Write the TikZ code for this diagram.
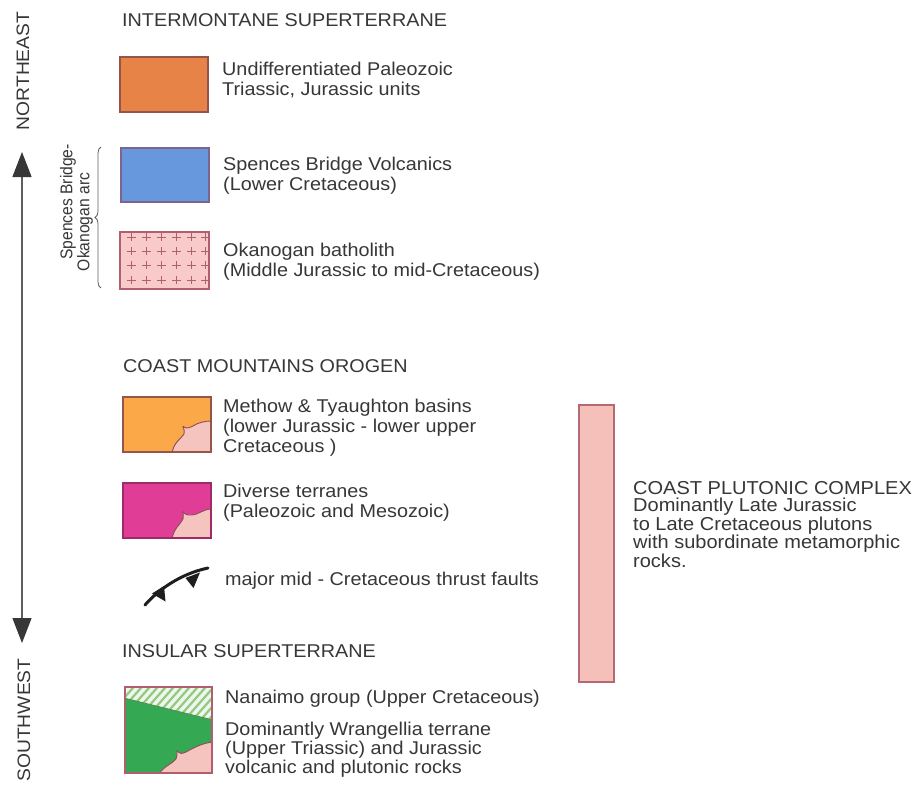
\documentclass[tikz,border=0pt]{standalone}
\usepackage{fontspec}
\setmainfont{Liberation Sans}[FakeStretch=1.07]
\usetikzlibrary{decorations.pathreplacing,arrows.meta}
\definecolor{txt}{RGB}{55,55,55}
\definecolor{linegray}{RGB}{95,95,95}
\definecolor{orangeA}{RGB}{232,131,72}
\definecolor{orangeAb}{RGB}{150,85,75}
\definecolor{blueA}{RGB}{103,152,222}
\definecolor{blueAb}{RGB}{125,100,140}
\definecolor{pinkA}{RGB}{248,202,202}
\definecolor{pinkAb}{RGB}{175,95,110}
\definecolor{orangeB}{RGB}{250,168,72}
\definecolor{magB}{RGB}{224,62,150}
\definecolor{pinkIn}{RGB}{245,196,190}
\definecolor{greenA}{RGB}{52,168,82}
\definecolor{hatchG}{RGB}{150,200,120}
\definecolor{hatchBg}{RGB}{236,246,242}
\definecolor{barfill}{RGB}{245,192,186}
\definecolor{barb}{RGB}{180,105,115}
\definecolor{faultc}{RGB}{30,30,30}
\tikzset{
  lbox/.style={anchor=north west,inner sep=0pt,outer sep=0pt,line width=1.3pt},
  lab/.style={anchor=base west,inner sep=0pt,align=left,text=txt,font=\fontsize{18.5}{20}\selectfont},
  labtight/.style={lab,font=\fontsize{18.7}{17.2}\selectfont},
  rot/.style={rotate=90,inner sep=0pt,text=txt,font=\fontsize{18}{20}\selectfont},
  inset/.style={fill=pinkIn,draw=pinkAb!80!black,line width=0.9pt},
}
\begin{document}
\begin{tikzpicture}[x=1pt,y=-1pt]
\useasboundingbox (0,0) rectangle (919,787);
\fill[white] (0,0) rectangle (919,787);

% direction arrow
\coordinate (ne) at (22,152);
\coordinate (sw) at (22,643);
\draw[linegray,line width=1.3pt,
  {Triangle[length=25pt,width=19pt,fill=txt,color=txt]}-{Triangle[length=25pt,width=19pt,fill=txt,color=txt]}]
  (ne) -- (sw);
\node[rot] (tNE) at (23,71) {NORTHEAST};
\node[rot] (tSW) at (24,720) {SOUTHWEST};

% arc label and brace
\node[rot,font=\fontsize{17}{20}\selectfont] (tsb1) at (68,202) {\scalebox{0.86}[1]{Spences Bridge-}};
\node[rot,font=\fontsize{17}{20}\selectfont] (tsb2) at (85,222) {\scalebox{0.86}[1]{Okanogan arc}};
\coordinate (brb) at (101,288);
\coordinate (brt) at (101,147);
\draw[linegray,line width=0.8pt,decorate,decoration={brace,amplitude=6pt}] (brb) -- (brt);

% headings
\node[lab] (hI) at (122,26) {INTERMONTANE SUPERTERRANE};
\node[lab] (hC) at (123,372) {COAST MOUNTAINS OROGEN};
\node[lab] (hS) at (122,657) {INSULAR SUPERTERRANE};

% box 1
\node[lbox,draw=orangeAb,fill=orangeA,minimum width=88pt,minimum height=55pt] (b1) at (120,57) {};
\node[lab] (l1) at (222,95) {Undifferentiated Paleozoic\\Triassic, Jurassic units};

% box 2
\node[lbox,draw=blueAb,fill=blueA,minimum width=88pt,minimum height=54pt] (b2) at (121,148) {};
\node[lab] (l2) at (223,190) {Spences Bridge Volcanics\\(Lower Cretaceous)};

% box 3 with plus signs
\node[lbox,draw=pinkAb,fill=pinkA,minimum width=89pt,minimum height=57pt] (b3) at (120,232) {};
\begin{scope}
\clip (b3.south west) rectangle (b3.north east);
\foreach \px in {131.5,146.5,161.5,176.5,191.5,205.5}
  \foreach \py in {237,251,265,280}
    \draw[pinkAb,line width=0.9pt] (\px-4.2,\py) -- (\px+4.2,\py) (\px,\py-4.2) -- (\px,\py+4.2);
\end{scope}
\draw[pinkAb,line width=1.3pt] (b3.south west) rectangle (b3.north east);
\node[lab] (l3) at (223,276) {Okanogan batholith\\(Middle Jurassic to mid-Cretaceous)};

% box 4 Methow
\node[lbox,draw=orangeAb,fill=orangeB,minimum width=88pt,minimum height=55pt] (b4) at (123,397) {};
\begin{scope}
\clip (b4.south west) rectangle (b4.north east);
\path[inset] (172,453) .. controls (174,442) and (180,440) .. (184,434)
  .. controls (184.5,431) .. (183,426.5) .. controls (187,428.5) .. (192,426.5)
  .. controls (198,422.5) and (205,421) .. (212,421) -- (212,453) -- cycle;
\end{scope}
\draw[orangeAb,line width=1.3pt] (b4.south west) rectangle (b4.north east);
\node[lab] (l4) at (223,452) {Methow \& Tyaughton basins\\(lower Jurassic - lower upper\\Cretaceous )};

% box 5 Diverse terranes
\node[lbox,draw=magB!70!black,fill=magB,minimum width=88pt,minimum height=55pt] (b5) at (123,483) {};
\begin{scope}
\clip (b5.south west) rectangle (b5.north east);
\path[inset] (172,539) .. controls (174,528) and (180,525) .. (183,519)
  .. controls (183.5,516) .. (182.5,511.5) .. controls (186,515) .. (192,515)
  .. controls (200,514) and (203,509) .. (212,509) -- (212,539) -- cycle;
\end{scope}
\draw[magB!70!black,line width=1.3pt] (b5.south west) rectangle (b5.north east);
\node[lab] (l5) at (223,517) {Diverse terranes\\(Paleozoic and Mesozoic)};

% thrust fault symbol
\draw[faultc,line width=3pt,line cap=round] (145,605) .. controls (158,590) and (180,574) .. (208,568);
\fill[faultc] (152,593.5) -- (164,586) -- (165.5,601.5) -- cycle;
\fill[faultc] (185.5,578) -- (200,572.5) -- (193.5,588) -- cycle;
\node[lab] (l6) at (225,585) {major mid - Cretaceous thrust faults};

% box 6 Insular
\node[lbox,draw=pinkAb,fill=greenA,minimum width=87pt,minimum height=86pt] (b6) at (125,687) {};
\begin{scope}
\clip (b6.south west) rectangle (b6.north east);
\fill[hatchBg] (124,686) -- (213,686) -- (213,720) -- (124,698) -- cycle;
\begin{scope}
\clip (124,686) -- (213,686) -- (213,720) -- (124,698) -- cycle;
\foreach \k in {0,...,16}
  \draw[hatchG,line width=2.2pt] (100+8*\k,725) -- (140+8*\k,680);
\end{scope}
\draw[green!35!black!70,line width=0.8pt] (124,698) -- (213,720);
\path[inset] (159,774) .. controls (164,766) and (172,764) .. (176,759)
  .. controls (177,756) .. (177,751) .. controls (181,754) .. (186,752)
  .. controls (195,747) and (203,743) .. (213,742) -- (213,774) -- cycle;
\end{scope}
\draw[pinkAb,line width=1.3pt] (b6.south west) rectangle (b6.north east);
\node[lab] (l7) at (225,703) {Nanaimo group (Upper Cretaceous)};
\node[lab,font=\fontsize{18.5}{19}\selectfont] (l8) at (225,773) {Dominantly Wrangellia terrane\\(Upper Triassic) and Jurassic\\volcanic and plutonic rocks};

% Coast plutonic complex
\node[lbox,draw=barb,fill=barfill,minimum width=35pt,minimum height=277pt] (bar) at (579,405) {};
\node[labtight] (l9) at (633,567) {COAST PLUTONIC COMPLEX\\Dominantly Late Jurassic\\to Late Cretaceous plutons\\with subordinate metamorphic\\rocks.};
\end{tikzpicture}
\end{document}
